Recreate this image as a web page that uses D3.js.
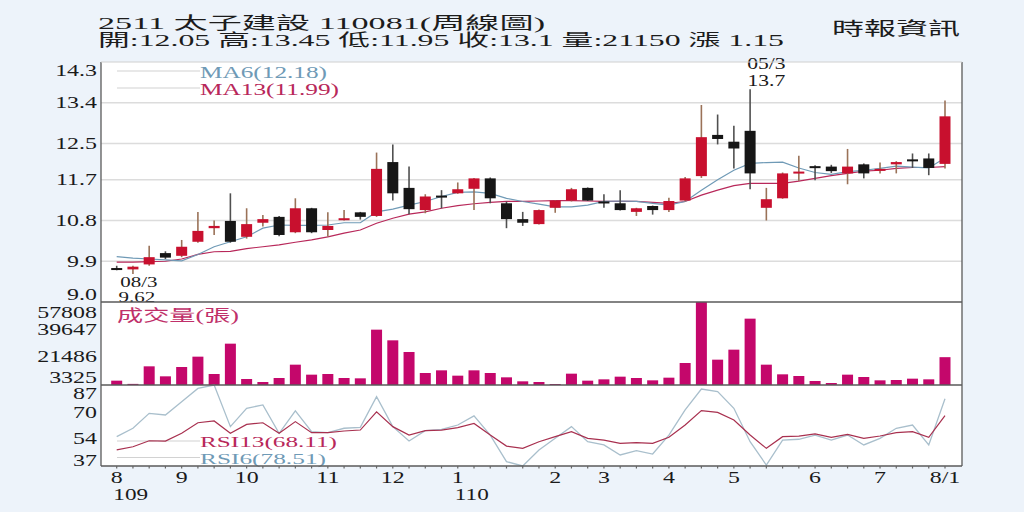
<!DOCTYPE html>
<html><head><meta charset="utf-8">
<script src="https://cdn.jsdelivr.net/npm/d3@7/dist/d3.min.js"></script>
<style>
html,body{margin:0;padding:0;background:#edf3fa;}
svg{display:block;}
text{font-family:"Liberation Serif","Noto Sans CJK TC",serif;}
</style></head><body>
<svg id="c" width="1024" height="512"></svg>
<script>
// ---------- data ----------
const weeks = ["2020/08/10","2020/08/17","2020/08/24","2020/08/31","2020/09/07","2020/09/14","2020/09/21","2020/09/28",
"2020/10/05","2020/10/12","2020/10/19","2020/10/26","2020/11/02","2020/11/09","2020/11/16","2020/11/23","2020/11/30",
"2020/12/07","2020/12/14","2020/12/21","2020/12/28","2021/01/04","2021/01/11","2021/01/18","2021/01/25","2021/02/01",
"2021/02/08","2021/02/15","2021/02/22","2021/03/01","2021/03/08","2021/03/15","2021/03/22","2021/03/29","2021/04/05",
"2021/04/12","2021/04/19","2021/04/26","2021/05/03","2021/05/10","2021/05/17","2021/05/24","2021/05/31","2021/06/07",
"2021/06/14","2021/06/21","2021/06/28","2021/07/05","2021/07/12","2021/07/19","2021/07/26","2021/08/02"];
const openP  = [9.75,9.72,9.83,10.08,10.02,10.33,10.63,10.79,10.44,10.75,10.88,10.54,11.07,10.59,10.84,10.98,10.90,12.09,11.52,11.03,11.35,11.40,11.50,11.73,11.18,10.83,10.72,11.08,11.24,11.52,11.22,11.18,10.99,11.12,11.03,11.24,11.78,12.69,12.54,12.78,11.08,11.29,11.85,12.00,11.99,11.84,12.04,11.91,12.04,12.15,12.17,12.05];
const highP  = [9.80,9.80,10.24,10.12,10.37,10.99,10.80,11.40,11.07,10.92,10.90,11.29,11.08,10.98,11.03,10.99,12.30,12.48,11.99,11.38,11.47,11.64,11.74,11.75,11.22,10.99,11.04,11.25,11.52,11.53,11.38,11.47,11.08,11.13,11.30,11.76,13.35,13.14,12.89,13.70,11.52,11.86,12.23,12.02,12.03,12.38,12.06,12.08,12.11,12.28,12.28,13.45];
const lowP   = [9.70,9.62,9.80,9.95,9.99,10.31,10.48,10.31,10.40,10.67,10.45,10.52,10.52,10.44,10.80,10.82,10.88,11.24,10.94,10.96,11.07,11.39,11.03,11.18,10.63,10.68,10.71,10.97,11.22,11.23,11.08,11.02,10.90,10.93,10.99,11.22,11.74,12.48,11.95,11.49,10.80,11.28,11.67,11.69,11.85,11.60,11.73,11.84,11.84,11.96,11.80,11.95];
const closeP = [9.73,9.78,9.99,9.98,10.22,10.57,10.68,10.33,10.72,10.83,10.48,11.07,10.54,10.68,10.85,10.88,11.94,11.40,11.05,11.33,11.34,11.49,11.73,11.29,10.83,10.75,11.03,11.24,11.49,11.24,11.20,11.03,11.07,11.03,11.23,11.73,12.64,12.60,12.39,11.84,11.27,11.84,11.88,11.98,11.89,11.99,11.84,11.94,12.09,12.13,11.96,13.10];
const ma6  = [10.00,9.97,9.95,9.93,9.91,10.05,10.22,10.33,10.44,10.63,10.70,10.69,10.69,10.70,10.75,10.75,10.99,11.05,11.14,11.22,11.33,11.42,11.43,11.40,11.29,11.22,11.16,11.10,11.10,11.14,11.22,11.23,11.22,11.18,11.14,11.22,11.47,11.70,11.91,12.06,12.08,12.09,11.96,11.86,11.82,11.88,11.91,11.95,12.00,11.98,11.96,12.18];
const ma13 = [9.88,9.88,9.89,9.90,9.95,10.05,10.11,10.12,10.18,10.22,10.26,10.32,10.37,10.44,10.52,10.59,10.74,10.85,10.94,10.99,11.07,11.13,11.17,11.20,11.22,11.22,11.23,11.24,11.24,11.23,11.22,11.22,11.22,11.20,11.18,11.22,11.36,11.47,11.57,11.62,11.62,11.62,11.67,11.73,11.79,11.84,11.89,11.91,11.95,11.97,11.97,11.99];
const volume = [5540,3400,15065,8420,14620,21490,9970,30125,6650,4655,7310,16170,9530,9970,7310,7090,39430,32340,24590,10635,12405,8860,12405,10635,7755,5100,4655,3325,10190,5540,6425,8200,7310,5760,7530,17280,57808,19495,26140,46740,16170,9750,8640,5320,3990,9530,7975,5760,5980,6870,6425,21150];
const rsi6  = [55.1,60.3,69.5,68.5,76.7,84.9,87.0,61.3,72.6,74.7,57.2,71.0,58.2,57.6,60.3,60.9,79.8,61.3,52.4,58.8,59.6,62.3,67.9,56.1,39.7,37.0,46.9,54.1,61.3,52.0,50.0,43.8,46.5,44.4,56.1,71.6,84.5,82.9,72.6,52.0,37.6,53.0,53.5,56.1,53.0,56.1,50.0,54.1,60.3,62.3,50.0,78.51];
const rsi13 = [46.9,48.9,52.6,52.4,57.2,63.7,64.8,57.2,62.7,63.7,57.2,64.4,57.6,57.6,58.6,59.2,70.5,61.3,56.1,58.8,59.2,60.7,63.3,56.1,49.3,47.9,52.0,55.1,58.2,54.1,53.0,51.0,51.4,51.0,54.7,62.3,71.2,70.1,65.4,56.1,47.9,55.1,55.5,56.8,54.7,56.5,54.1,55.5,57.6,58.2,54.7,68.11];
const priceTicks = [9.0,9.9,10.8,11.7,12.5,13.4,14.3];
const priceLabels = ["9.0","9.9","10.8","11.7","12.5","13.4","14.3"];
const volTicks = [3325,21486,39647,57808];
const rsiTicks = [37,54,70,87];
const monthWeeks  = ["2020/08/10","2020/09/07","2020/10/05","2020/11/09","2020/12/07","2021/01/04","2021/02/15","2021/03/08","2021/04/05","2021/05/03","2021/06/07","2021/07/05","2021/08/02"];
const monthLabels = ["8","9","10","11","12","1","2","3","4","5","6","7","8/1"];
const yearWeeks  = ["2020/08/10","2021/01/04"];
const yearLabels = ["109","110"];
const titleText = "2511  太子建設 110081(周線圖)";
const infoText  = "開:12.05 高:13.45 低:11.95 收:13.1 量:21150 漲 1.15";
const sourceText = "時報資訊";
const lowMark  = {week:"2020/08/17", date:"08/3", value:"9.62"};
const highMark = {week:"2021/05/17", date:"05/3", value:"13.7"};

// ---------- layout ----------
const svg = d3.select("#c");
const L=101, R=962, T=62, PB=302, VB=385, RB=466;
const RED="#c8102e", BLK="#161616", VOL="#c4076b", MA6C="#6f9ab6", MA13C="#b8285a";
const x  = d3.scalePoint().domain(weeks).range([116.7, 945]);
const yP = d3.scaleLinear().domain([9.0,14.3]).range([PB,T]);
const yV = d3.scaleLinear().domain([3325,57808]).range([VB-1,PB]);
const yR = d3.scaleLinear().domain([37,87]).range([RB,VB]);
const clamp=(v,a,b)=>Math.max(a,Math.min(b,v));

function txt(g, px, py, s, o){
  const t = g.append("text")
    .attr("transform",`translate(${px},${py}) scale(${o.sx||1},1)`)
    .attr("font-size",o.size||16).attr("fill",o.fill||"#1a1a1a")
    .attr("text-anchor",o.anchor||"start")
    .attr("dominant-baseline",o.base||"central").text(s);
  if(o.len){ t.attr("transform",`translate(${px},${py})`).attr("textLength",o.len).attr("lengthAdjust","spacingAndGlyphs"); }
  return t;
}

// plot background
svg.append("rect").attr("x",L).attr("y",T).attr("width",R-L).attr("height",RB-T).attr("fill","#ffffff");

// header
const hd = svg.append("g");
txt(hd, 98, 29, titleText, {size:17, base:"alphabetic", len:447, fill:"#1c1c1c"});
txt(hd, 98, 46, infoText, {size:16.5, base:"alphabetic", len:686, fill:"#1c1c1c"});
txt(hd, 832, 35, sourceText, {size:18, base:"alphabetic", len:128, fill:"#1c1c1c"});

// price grid
const g = svg.append("g");
g.selectAll(".grid").data(priceTicks.slice(1,-1)).join("line")
  .attr("x1",L).attr("x2",R).attr("y1",d=>yP(d)).attr("y2",d=>yP(d))
  .attr("stroke","#dcdcdc").attr("stroke-width",1.3);

// legend swatch lines
const legY = [71, 88, 441, 457.5];
g.selectAll(".leg").data(legY).join("line")
  .attr("x1",117).attr("x2",200).attr("y1",d=>d).attr("y2",d=>d)
  .attr("stroke","#d2d2d2").attr("stroke-width",1.2);

// moving averages
const lineP = arr => d3.line().x((d,i)=>x(weeks[i])).y(d=>yP(d))(arr);
g.append("path").attr("d",lineP(ma13)).attr("fill","none").attr("stroke",MA13C).attr("stroke-width",1.2);
g.append("path").attr("d",lineP(ma6)).attr("fill","none").attr("stroke",MA6C).attr("stroke-width",1.2);

// candles
const cd = weeks.map((w,i)=>({w,o:openP[i],h:highP[i],l:lowP[i],c:closeP[i]}));
const cg = g.selectAll(".cdl").data(cd).join("g");
cg.append("line").attr("x1",d=>x(d.w)).attr("x2",d=>x(d.w))
  .attr("y1",d=>yP(d.h)).attr("y2",d=>yP(d.l))
  .attr("stroke",d=>d.c>=d.o?"#9a7258":"#505050").attr("stroke-width",1.6);
cg.append("rect").attr("x",d=>x(d.w)-5.5).attr("width",11)
  .attr("y",d=>yP(Math.max(d.o,d.c)))
  .attr("height",d=>Math.max(2,yP(Math.min(d.o,d.c))-yP(Math.max(d.o,d.c))))
  .attr("fill",d=>d.c>=d.o?RED:BLK);

// legend texts
txt(g, 200, 72, "MA6(12.18)", {size:17, len:127, fill:MA6C});
txt(g, 200, 89, "MA13(11.99)", {size:17, len:139, fill:MA13C});

// high / low marks
txt(g, x(highMark.week), 64, highMark.date, {size:16, sx:1.35, anchor:"middle"});
txt(g, x(highMark.week), 81, highMark.value, {size:16, sx:1.35, anchor:"middle"});
txt(g, x(lowMark.week)+6, 282, lowMark.date, {size:15, sx:1.4, anchor:"middle"});
txt(g, x(lowMark.week)+4, 297.5, lowMark.value, {size:14.5, sx:1.45, anchor:"middle"});

// volume bars
const vg = svg.append("g");
vg.selectAll("rect").data(weeks.map((w,i)=>({w,v:volume[i]}))).join("rect")
  .attr("x",d=>x(d.w)-5.5).attr("width",11)
  .attr("y",d=>yV(d.v)).attr("height",d=>yV(3325)-yV(d.v)+1)
  .attr("fill",VOL);
txt(vg, 117, 315, "成交量(張)", {size:16, len:122, fill:"#c0306a"});

// RSI
const rg = svg.append("g");
const lineR = arr => d3.line().x((d,i)=>x(weeks[i])).y(d=>yR(d))(arr);
rg.append("path").attr("d",lineR(rsi6)).attr("fill","none").attr("stroke","#a9bfcc").attr("stroke-width",1.3);
rg.append("path").attr("d",lineR(rsi13)).attr("fill","none").attr("stroke","#a8304f").attr("stroke-width",1.2);
txt(rg, 200, 441, "RSI13(68.11)", {size:15.5, len:137, fill:"#b8285a"});
txt(rg, 200, 458.5, "RSI6(78.51)", {size:15.5, len:126, fill:"#6f9ab6"});

// frame
const fr = svg.append("g").attr("stroke","#5a5a5a").attr("stroke-width",1.3);
fr.append("line").attr("x1",L).attr("x2",L).attr("y1",T).attr("y2",RB);
fr.append("line").attr("x1",R).attr("x2",R).attr("y1",T).attr("y2",RB);
[PB,VB,RB].forEach(yy=>fr.append("line").attr("x1",L).attr("x2",R).attr("y1",yy).attr("y2",yy));
svg.append("line").attr("x1",L).attr("x2",R).attr("y1",T).attr("y2",T).attr("stroke","#d0d0d0");

// x ticks (small marks at each week)
svg.append("g").selectAll("line").data(weeks).join("line")
  .attr("x1",d=>x(d)).attr("x2",d=>x(d)).attr("y1",RB).attr("y2",RB+2.5)
  .attr("stroke","#666").attr("stroke-width",1.2);

// axis labels
const ax = svg.append("g");
priceTicks.forEach((t,i)=>txt(ax, 97, clamp(yP(t),T+8,PB-8), priceLabels[i], {size:16.5, sx:1.45, anchor:"end"}));
volTicks.forEach(t=>txt(ax, 97, clamp(yV(t),PB+10,VB-8), String(t), {size:16.5, sx:1.45, anchor:"end"}));
rsiTicks.forEach(t=>txt(ax, 97, clamp(yR(t),VB+8,RB-6), String(t), {size:16.5, sx:1.45, anchor:"end"}));
monthWeeks.forEach((w,i)=>txt(ax, x(w), 477, monthLabels[i], {size:16.5, sx:1.45, anchor:"middle"}));
yearWeeks.forEach((w,i)=>txt(ax, x(w)+14, 494.5, yearLabels[i], {size:16, sx:1.45, anchor:"middle"}));
</script>
</body></html>
